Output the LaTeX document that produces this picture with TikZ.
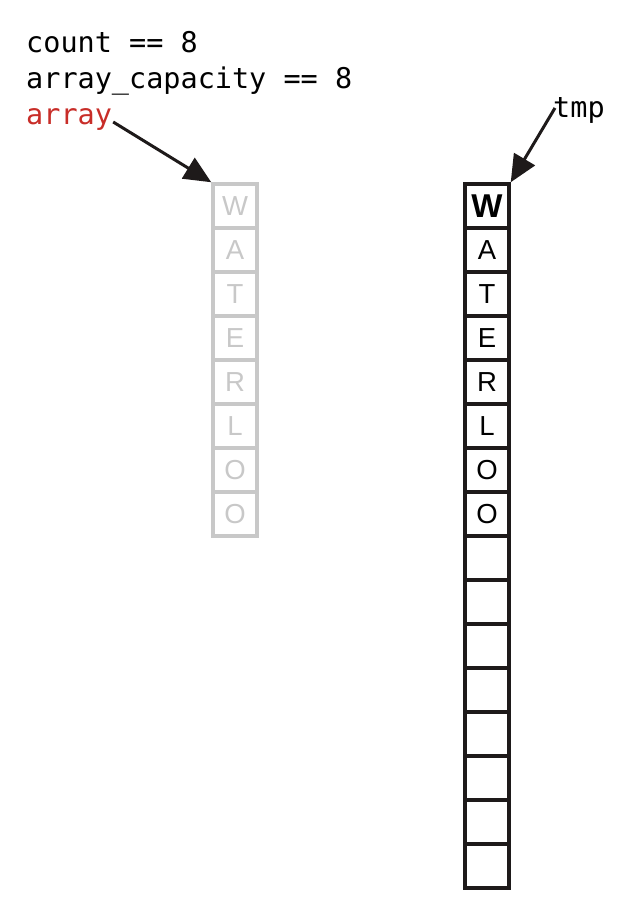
\documentclass[tikz,border=0pt]{standalone}
\usepackage{fontspec}
\setmainfont{Liberation Sans}
\setmonofont{DejaVu Sans Mono}
\usetikzlibrary{arrows.meta,positioning}
\definecolor{oldcolor}{RGB}{200,200,200}
\definecolor{ptrcolor}{RGB}{200,45,40}
\definecolor{inkcolor}{RGB}{30,26,26}

\begin{document}
\begin{tikzpicture}[
    x=1pt, y=-1pt,
    cellbox/.style={
        rectangle, draw=inkcolor, line width=3.5pt,
        minimum width=44pt, minimum height=44pt,
        inner sep=0pt, font=\fontsize{27.5}{27.5}\selectfont
    },
    oldbox/.style={cellbox, draw=oldcolor, text=oldcolor},
    codetext/.style={anchor=base west, inner sep=1pt, font=\ttfamily\fontsize{28.5}{28.5}\selectfont},
    ptr/.style={-{Triangle[length=27pt,width=24pt]}, line width=3pt, inkcolor}
]
\useasboundingbox (0,0) rectangle (630,922);

% Variables
\node[codetext] (count) at (25,52) {count == 8};
\node[codetext] (cap) at (25,88) {array\_capacity == 8};
\node[codetext, text=ptrcolor] (arr) at (25,124) {array};
\node[codetext] (tmp) at (552,117) {tmp};

% Old array
\foreach \ch [count=\i from 0] in {W,A,T,E,R,L,O,O}
    \node[oldbox] (g\i) at (235,206+44*\i) {\ch};

% New array
\foreach \ch [count=\i from 0] in {{\bfseries\fontsize{33}{33}\selectfont W},A,T,E,R,L,O,O,{},{},{},{},{},{},{},{}}
    \node[cellbox] (n\i) at (487,206+44*\i) {\ch};

% Pointers
\draw[ptr] ([yshift=-3pt]arr.east) -- (g0.north west);
\draw[ptr] ([xshift=3pt,yshift=2pt]tmp.west) -- (n0.north east);

\end{tikzpicture}
\end{document}
